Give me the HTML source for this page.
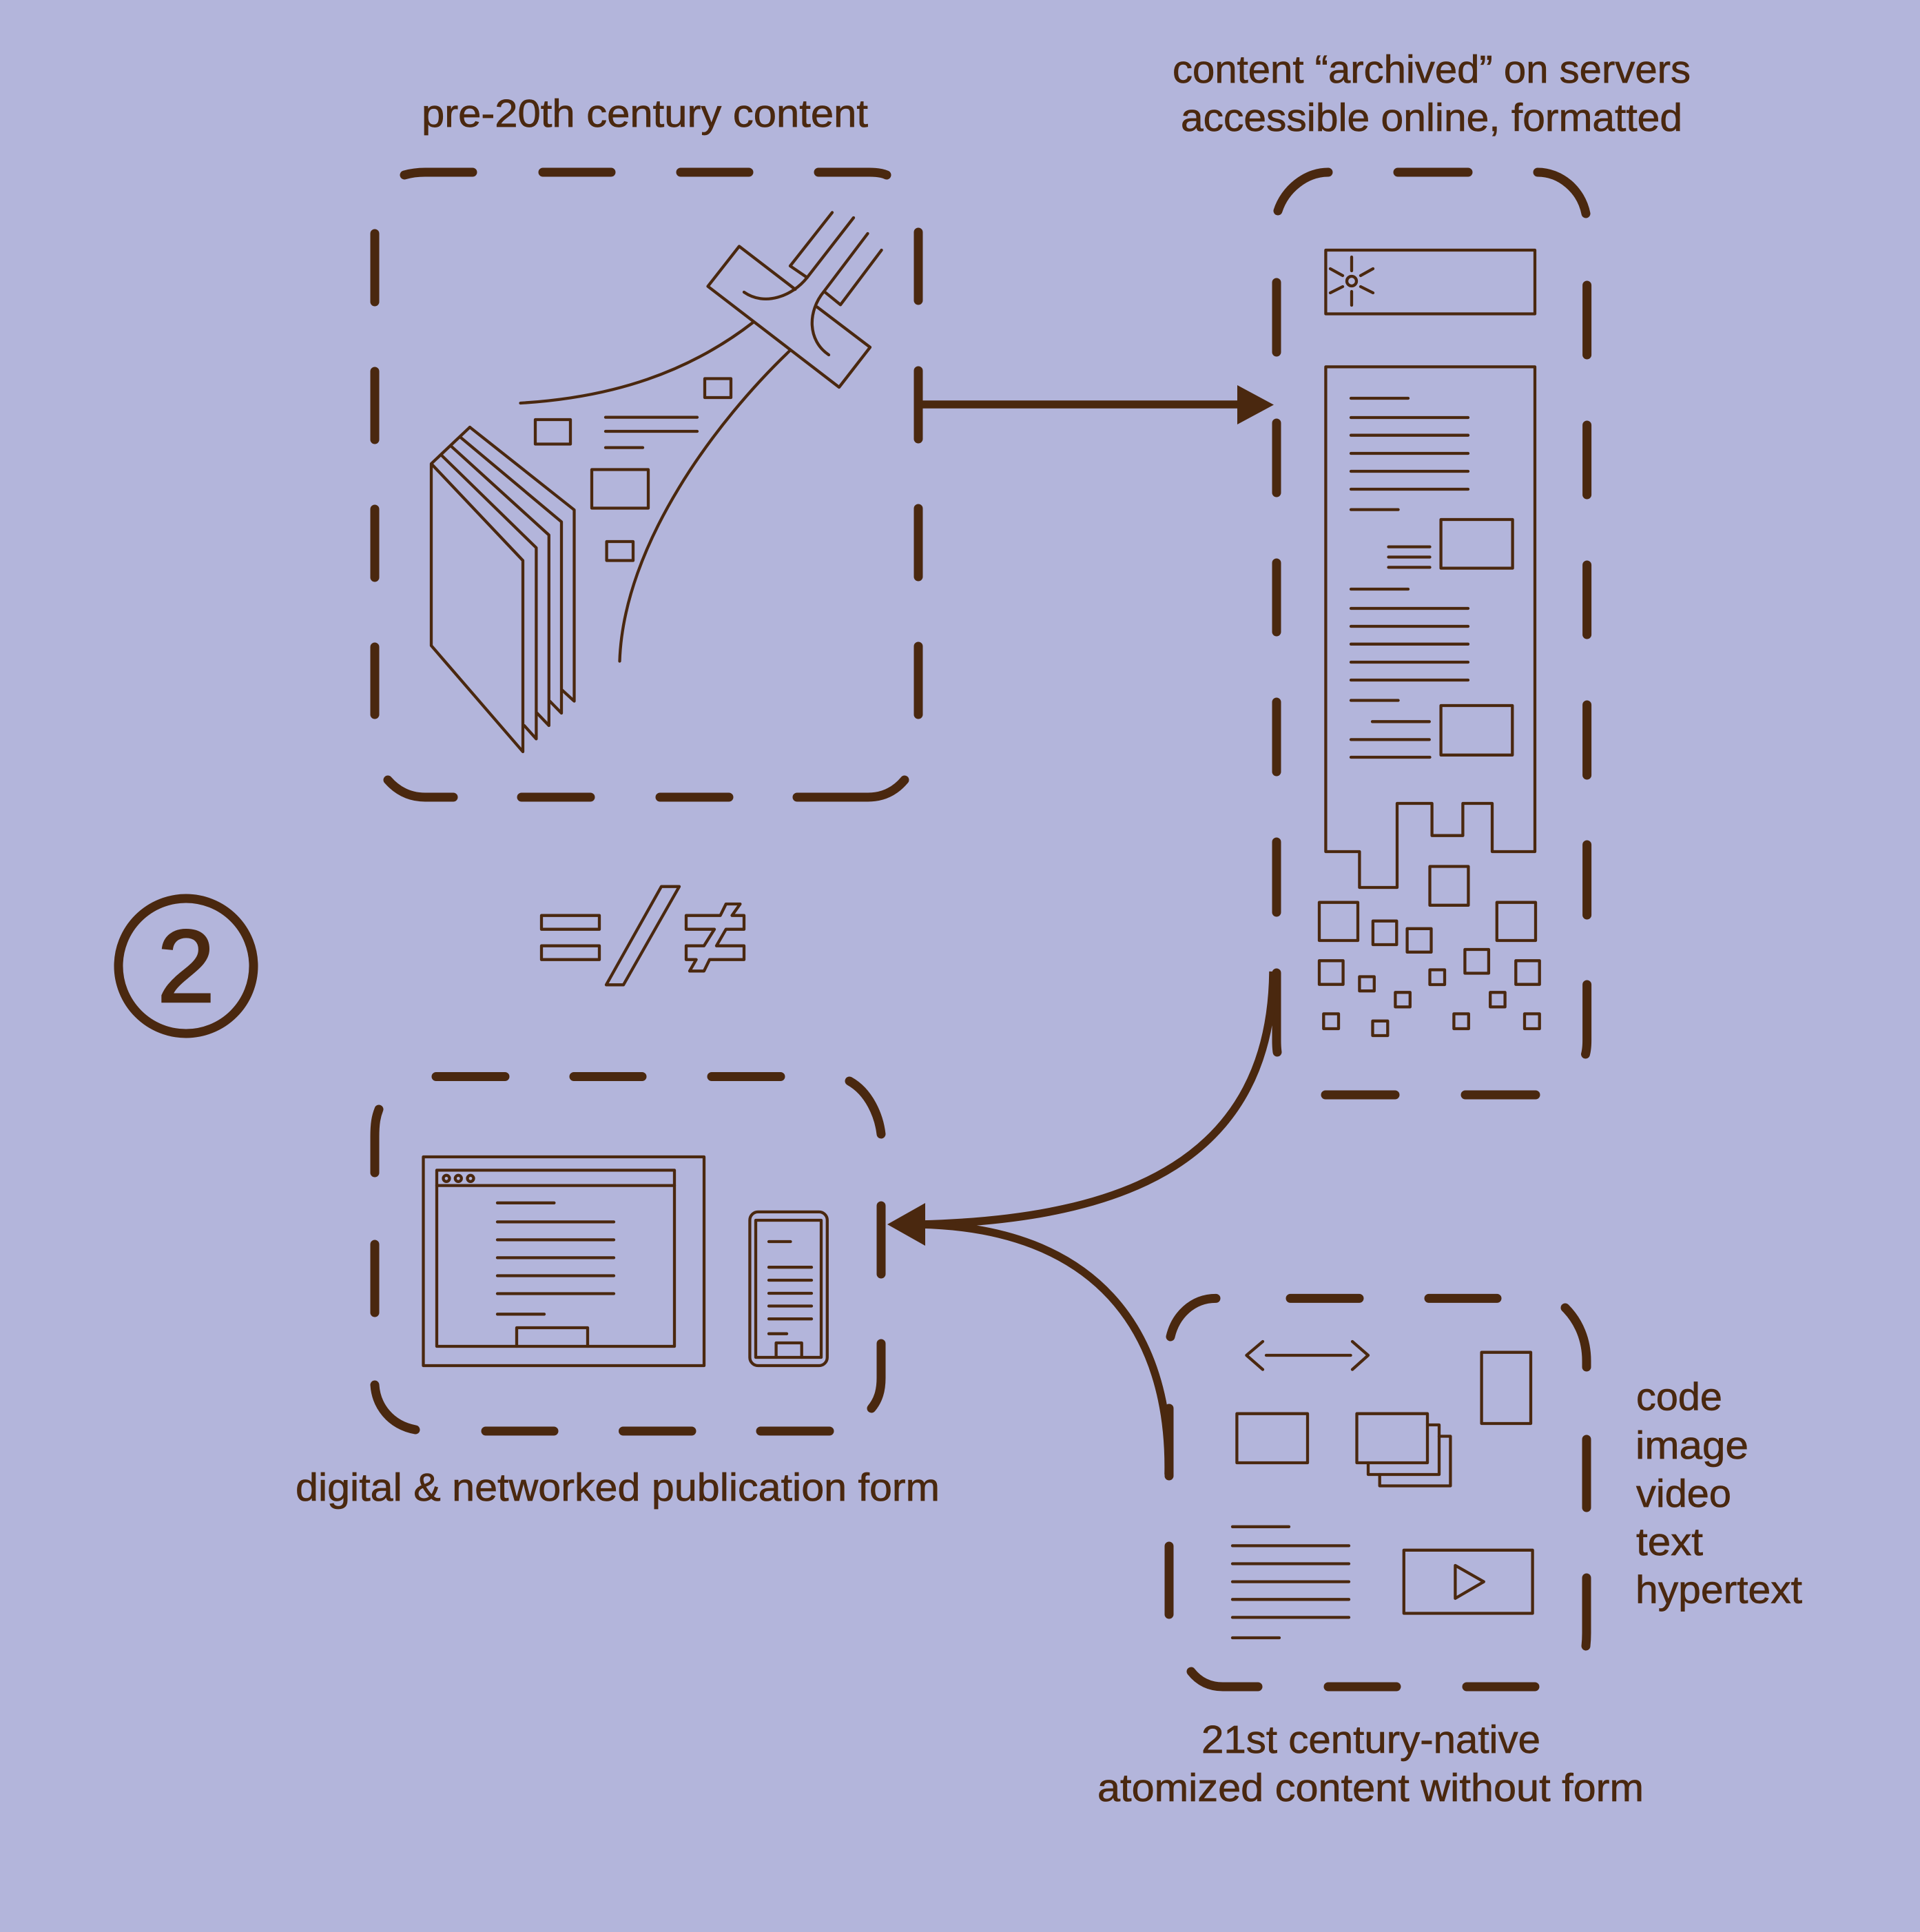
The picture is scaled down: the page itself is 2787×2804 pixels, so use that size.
<!DOCTYPE html>
<html lang="en"><head><meta charset="utf-8"><title>Diagram</title>
<style>html,body{margin:0;padding:0;background:#b3b5db}svg{display:block}
text{font-family:"Liberation Sans",sans-serif;font-size:57px;fill:#4a280f;stroke:#4a280f;stroke-width:.7px}</style></head>
<body>
<svg xmlns="http://www.w3.org/2000/svg" width="2787" height="2804" viewBox="0 0 2787 2804">
<rect width="2787" height="2804" fill="#b3b5db"/>
<!-- thick dashes -->
<g fill="none" stroke="#4a280f" stroke-width="13" stroke-linecap="round">
<path d="M587,254Q601,250 617,250H686M788,250H887M988,250H1087M1188,250H1262Q1278,250 1287,254"/>
<path d="M544,339V438M544,539V638M544,739V838M544,939V1037M1333,337V436M1333,538V637M1333,738V837M1333,938V1037"/>
<path d="M563,1132Q585,1157 617,1157H658M757,1157H857M958,1157H1058M1157,1157H1260Q1292,1157 1313,1132"/>
<path d="M1855,306C1865,275 1895,250 1928,250M2029,250H2131M2232,250C2265,250 2295,275 2302,310"/>
<path d="M1853,410V511M1853,614V715M1853,817V917M1853,1019V1120M1853,1222V1324M1853,1412V1510Q1853,1520 1854,1527"/>
<path d="M2303.6,414V515M2303.6,617V718M2303.6,820V921M2303.6,1023V1125M2303.6,1226V1328M2303.6,1429V1510Q2303.6,1522 2301.5,1530"/>
<path d="M1924,1589H2025M2127,1589H2229"/>
<path d="M633,1562.5H733M833,1562.5H932M1033,1562.5H1133M1233,1569C1262,1585 1276,1620 1279,1646"/>
<path d="M550,1610C546,1620 544,1630 544,1650V1702M544,1806V1905M544,2010C546,2040 566,2068 603,2075"/>
<path d="M1279,1750V1849M1279,1950V2000C1279,2018 1275,2032 1265,2044"/>
<path d="M705,2077H804M904.5,2077H1004M1104,2077H1204"/>
<path d="M1699,1940C1706,1910 1730,1884.4 1765,1884.4M1873,1884.4H1973M2074,1884.4H2173M2272,1898C2292,1918 2303,1945 2303,1975V1984"/>
<path d="M1697,2044V2142M1697,2244V2343M2303,2089V2188M2303,2290V2370Q2303,2380 2302,2389"/>
<path d="M1729,2426C1740,2440 1755,2448 1775,2448H1826M1928,2448H2027M2129,2448H2228"/>
</g>
<!-- connectors -->
<g fill="none" stroke="#4a280f" stroke-width="11.5">
<path d="M1333,587H1800"/>
<path d="M1848,1410C1845,1680 1640,1770 1335,1777"/>
<path d="M1696,2140C1700,1930 1590,1782 1335,1777"/>
</g>
<path d="M1796,559L1849,587.5L1796,616Z" fill="#4a280f"/>
<path d="M1288,1777L1343,1746V1808Z" fill="#4a280f"/>
<!-- thin art -->
<g fill="none" stroke="#4a280f" stroke-width="4.3" stroke-linecap="round" stroke-linejoin="round">
<!-- book -->
<path d="M682,620L626,673V937L759,1091V813.5L626,673"/>
<path d="M640.6,660.5L778.4,795V1072.4L761,1053"/>
<path d="M655,647.7L796.8,776.5V1053L779.6,1035"/>
<path d="M668.8,635L815,757.4V1035L798,1017.6"/>
<path d="M682,620L833.5,740V1017.6L816,1001.6"/>
<!-- cross -->
<path d="M1154.4,420L1073,357.5L1027.5,415.6L1218,562L1263,504L1186,445.5"/>
<path d="M1208,308.4L1147,386L1171.6,402.8"/>
<path d="M1239,316L1171.6,402.8C1150,430 1110,445 1080,424"/>
<path d="M1259.5,339L1196,423C1172,452 1172,494 1203,515"/>
<path d="M1279.6,363L1220,442.3L1196.3,423"/>
<path d="M755.5,585C890,577 1000,540 1093,468"/>
<path d="M899.5,959.6C905,790 1040,610 1147.5,508"/>
<rect x="1023" y="549.5" width="38" height="27.5"/>
<rect x="777" y="609" width="51" height="35.5"/>
<rect x="859" y="681.5" width="82" height="56"/>
<rect x="880.6" y="786" width="38.4" height="27.5"/>
<path d="M879,605.6H1012M879,626H1012M879,649.6H933"/>
<!-- archive -->
<rect x="1924.4" y="363" width="303.6" height="92.5"/>
<circle cx="1962" cy="408" r="7"/>
<path d="M1962,373V393M1962,423V443M1931,390L1949,400M1993,390L1975,400M1931,425L1949,416M1993,425L1975,416"/>
<path d="M1924.4,532.4H2228V1236H2166V1166H2123.4V1212.7H2078.6V1166H2028V1288H1973.4V1236H1924.4Z"/>
<path d="M1961,578H2044M1961,606H2131M1961,631.7H2131M1961,658H2131M1961,684H2131M1961,710H2131M1961,739.6H2029.6"/>
<path d="M2015.5,793.6H2075.5M2015.5,808.5H2075.5M2015.5,823.4H2075.5"/>
<rect x="2091.6" y="754" width="104" height="70.6"/>
<path d="M1961,855H2044M1961,883H2131M1961,909H2131M1961,934.8H2131M1961,961H2131M1961,987H2131M1961,1016.5H2029.6"/>
<path d="M1992,1047.3H2074.8M1961,1073.4H2074.8M1961,1099H2075.5"/>
<rect x="2091.6" y="1024" width="103.7" height="71.8"/>
<rect x="2075.5" y="1257.5" width="55.9" height="56.3"/>
<rect x="1915" y="1309.7" width="56" height="55.3"/>
<rect x="2172.8" y="1309.7" width="56.2" height="55.3"/>
<rect x="1992.9" y="1336.7" width="34.4" height="34.3"/>
<rect x="2042.6" y="1347.8" width="34.9" height="34"/>
<rect x="2126.4" y="1378" width="34.5" height="34.5"/>
<rect x="1915" y="1394.3" width="34.6" height="34.4"/>
<rect x="2200.3" y="1394.3" width="34.4" height="34.4"/>
<rect x="1973.4" y="1417.5" width="21.4" height="20.7"/>
<rect x="2075.5" y="1407.5" width="21.5" height="21.5"/>
<rect x="2025.4" y="1440.3" width="21.4" height="21.1"/>
<rect x="2163.2" y="1440.3" width="21.4" height="21.1"/>
<rect x="1921.3" y="1471.4" width="21.7" height="21.6"/>
<rect x="2110.4" y="1471.4" width="21.4" height="21.6"/>
<rect x="2213" y="1471.4" width="21.7" height="21.6"/>
<rect x="1992.5" y="1481.8" width="21.8" height="21.2"/>
<!-- laptop -->
<rect x="614.5" y="1679" width="407.5" height="303"/>
<rect x="634" y="1698.4" width="345" height="255.6"/>
<path d="M634,1720.6H979"/>
<circle cx="648" cy="1710.3" r="4.5"/><circle cx="665.3" cy="1710.3" r="4.5"/><circle cx="683" cy="1710.3" r="4.5"/>
<path d="M722,1745.8H804.4M722,1773.4H891M722,1799.4H891M722,1825.4H891M722,1851.5H891M722,1877.5H891M722,1907.3H790"/>
<path d="M750,1954V1927H853V1954"/>
<!-- phone -->
<rect x="1088.4" y="1758.9" width="112.4" height="223.1" rx="12"/>
<rect x="1097" y="1771" width="95" height="199"/>
<path d="M1116,1802H1147.5M1116,1839.2H1178M1116,1858H1178M1116,1877H1178M1116,1895.5H1178M1116,1914.2H1178M1116,1935.7H1142"/>
<path d="M1126.6,1970V1949H1163.7V1970"/>
<!-- content icons -->
<path d="M1833,1947L1809.4,1967L1833,1987.6M1838,1967H1960.6M1963,1947L1986,1967L1963,1987.6"/>
<rect x="2150.6" y="1962.7" width="71.4" height="103.3"/>
<rect x="1795.4" y="2051.7" width="102.6" height="71.3"/>
<rect x="1969.5" y="2051.7" width="102.5" height="71.3"/>
<path d="M2072,2068H2089V2140H1986V2123"/>
<path d="M2089,2084.5H2105.4V2156.5H2002.7V2140"/>
<path d="M1789,2215.8H1871M1789,2243.4H1958M1789,2269.5H1958M1789,2295.6H1958M1789,2321.3H1958M1789,2347.4H1958M1789,2377H1857"/>
<rect x="2037.8" y="2249.8" width="186.8" height="91.7"/>
<path d="M2112.4,2272L2153.8,2295.6L2112.4,2319.8Z"/>
<!-- symbols -->
<rect x="786" y="1328.7" width="84" height="20"/>
<rect x="786" y="1372.7" width="84" height="20"/>
<path d="M960,1286.7H986L905,1429.3H880Z"/>
<path d="M996,1328.7H1045.6L1053.8,1312H1074.4L1062.5,1328.7H1080V1348.7H1053.8L1040,1372.7H1080V1392.7H1030L1021.9,1409.3H1001L1010.6,1392.7H996V1372.7H1021.9L1037,1348.7H996Z"/>
</g>
<!-- numbered circle -->
<ellipse cx="270" cy="1402" rx="98" ry="98" fill="none" stroke="#4a280f" stroke-width="13"/>
<text x="228" y="1454" style="font-size:150px;stroke-width:2.5px" textLength="84" lengthAdjust="spacingAndGlyphs">2</text>
<!-- labels -->
<text x="612" y="184" textLength="648" lengthAdjust="spacingAndGlyphs">pre-20th century content</text>
<text x="1702" y="120" textLength="752" lengthAdjust="spacingAndGlyphs">content “archived” on servers</text>
<text x="1714" y="190" textLength="728" lengthAdjust="spacingAndGlyphs">accessible online, formatted</text>
<text x="429" y="2178" textLength="935" lengthAdjust="spacingAndGlyphs">digital &amp; networked publication form</text>
<text x="1744" y="2544" textLength="492" lengthAdjust="spacingAndGlyphs">21st century-native</text>
<text x="1593" y="2614" textLength="793" lengthAdjust="spacingAndGlyphs">atomized content without form</text>
<text x="2375" y="2046.5" textLength="125" lengthAdjust="spacingAndGlyphs">code</text>
<text x="2374" y="2117" textLength="164" lengthAdjust="spacingAndGlyphs">image</text>
<text x="2375" y="2187" textLength="138" lengthAdjust="spacingAndGlyphs">video</text>
<text x="2375" y="2257" textLength="97" lengthAdjust="spacingAndGlyphs">text</text>
<text x="2374" y="2326.5" textLength="242" lengthAdjust="spacingAndGlyphs">hypertext</text>
</svg>
</body></html>
